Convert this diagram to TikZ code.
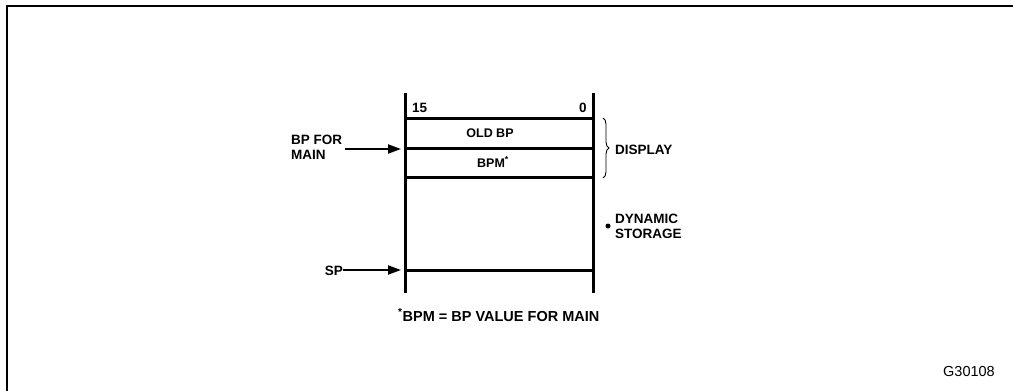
\documentclass[tikz,border=0pt]{standalone}
\usepackage{fontspec}
\setmainfont{Liberation Sans}
\usetikzlibrary{arrows.meta,decorations.pathreplacing}
\begin{document}
\begin{tikzpicture}[x=1pt,y=-1pt,
  lbl/.style={inner sep=0pt,anchor=base west,font=\fontsize{13.5}{15}\selectfont\bfseries},
  inlbl/.style={inner sep=0pt,anchor=base,font=\fontsize{12.5}{14}\selectfont\bfseries},
  col/.style={line width=3pt},
  frame/.style={line width=2pt},
  ptr/.style={line width=2pt,-{Triangle[length=13pt,width=9pt]}},
  brc/.style={line width=0.9pt,decorate,decoration={brace,amplitude=6pt}}]
\useasboundingbox (0,0) rectangle (1013,391);
% open frame (top and left only)
\coordinate (fbl) at (7,391);
\coordinate (ftl) at (7,6);
\coordinate (ftr) at (1013,6);
\draw[frame] (fbl) -- (ftl) -- (ftr);
% column
\coordinate (lt) at (405,93);
\coordinate (lb) at (405,293);
\coordinate (rt) at (593,93);
\coordinate (rb) at (593,293);
\coordinate (l1) at (405,118);
\coordinate (r1) at (593,118);
\coordinate (l2) at (405,148);
\coordinate (r2) at (593,148);
\coordinate (l3) at (405,177);
\coordinate (r3) at (593,177);
\coordinate (l4) at (405,270);
\coordinate (r4) at (593,270);
\draw[col] (lt) -- (lb);
\draw[col] (rt) -- (rb);
\draw[col] (l1) -- (r1);
\draw[col] (l2) -- (r2);
\draw[col] (l3) -- (r3);
\draw[col] (l4) -- (r4);
% bit numbers
\node[lbl] (b15) at (412,112) {15};
\node[lbl] (b0) at (579,112) {0};
% cells
\node[inlbl] (oldbp) at (490,137) {OLD BP};
\node[inlbl] (bpm) at (493,167) {BPM\textsuperscript{*}};
% display brace
\coordinate (bt) at (603,118);
\coordinate (bb) at (603,178);
\draw[brc] (bt) -- (bb);
\node[lbl] (disp) at (615,154) {DISPLAY};
% dynamic storage
\node[circle,fill,inner sep=0pt,minimum size=5pt] (dot) at (608,226) {};
\node[lbl] (dyn) at (615,223) {DYNAMIC};
\node[lbl] (sto) at (615,238) {STORAGE};
% BP for main
\node[lbl] (bpfor) at (291,144) {BP FOR};
\node[lbl] (main) at (291,159) {MAIN};
\coordinate (bpa) at (345,149);
\coordinate (bpe) at (401,149);
\draw[ptr] (bpa) -- (bpe);
% SP
\node[lbl,anchor=base east] (sp) at (343,275) {SP};
\coordinate (spe) at (401,270);
\draw[ptr] (sp.east |- spe) -- (spe);
% footnote
\node[inner sep=0pt,anchor=base west,font=\fontsize{14.5}{16}\selectfont\bfseries] (fn) at (398,321) {\textsuperscript{*}BPM = BP VALUE FOR MAIN};
% figure id
\node[inner sep=0pt,anchor=base west,font=\fontsize{14.5}{16}\selectfont] (gid) at (943,376) {G30108};
\end{tikzpicture}
\end{document}
